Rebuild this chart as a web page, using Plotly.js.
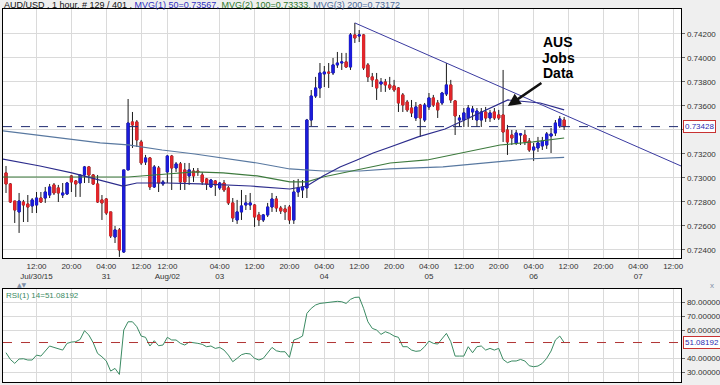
<!DOCTYPE html>
<html><head><meta charset="utf-8">
<script src="https://cdn.plot.ly/plotly-3.0.1.min.js"></script>
<style>html,body{margin:0;padding:0;background:#efefef;}#chart{width:720px;height:385px;}</style>
</head><body><div id="chart"></div>
<script>
// ---------- data ----------
const symbol = "AUD/USD";
const period = "1 hour";
const barInfo = "# 129 / 401";

const openP = [
0.73042,0.72950,0.72808,0.72717,0.72800,0.72783,0.72767,0.72775,0.72833,0.72833,
0.72858,0.72942,0.72917,0.72858,0.72867,0.73017,0.72975,0.72958,0.73025,0.73092,
0.73025,0.72950,0.72817,0.72825,0.72717,0.72508,0.72567,0.72383,0.73067,0.73467,
0.73467,0.73300,0.73133,0.73167,0.72925,0.73083,0.72950,0.73050,0.73183,0.73083,
0.73117,0.73067,0.73017,0.73058,0.73058,0.73025,0.72992,0.72925,0.72975,0.72917,
0.72958,0.72917,0.72792,0.72650,0.72717,0.72775,0.72775,0.72775,0.72692,0.72650,
0.72692,0.72758,0.72825,0.72750,0.72742,0.72758,0.72650,0.72883,0.72900,0.72917,
0.73483,0.73683,0.73750,0.73867,0.73883,0.73875,0.73942,0.73958,0.73967,0.73925,
0.74192,0.74183,0.74192,0.73942,0.73842,0.73817,0.73783,0.73800,0.73775,0.73767,
0.73750,0.73692,0.73633,0.73583,0.73500,0.73608,0.73483,0.73592,0.73667,0.73625,
0.73625,0.73700,0.73775,0.73642,0.73483,0.73483,0.73500,0.73550,0.73483,0.73483,
0.73550,0.73500,0.73550,0.73525,0.73525,0.73400,0.73358,0.73292,0.73358,0.73358,
0.73308,0.73233,0.73250,0.73267,0.73275,0.73350,0.73375,0.73433,0.73483];

const highP = [
0.73100,0.72958,0.72808,0.72875,0.72817,0.72858,0.72833,0.72883,0.72883,0.72925,
0.72950,0.72958,0.72942,0.72958,0.72967,0.73025,0.72983,0.73025,0.73100,0.73100,
0.73033,0.73025,0.72858,0.72833,0.72717,0.72600,0.72583,0.73067,0.73658,0.73550,
0.73483,0.73317,0.73192,0.73175,0.73108,0.73100,0.72983,0.73192,0.73192,0.73133,
0.73133,0.73125,0.73125,0.73083,0.73083,0.73050,0.73000,0.72992,0.72983,0.72967,
0.72983,0.72933,0.72833,0.72817,0.72900,0.72858,0.72875,0.72783,0.72717,0.72700,
0.72792,0.72875,0.72850,0.72767,0.72775,0.72775,0.72983,0.72992,0.72983,0.73492,
0.73733,0.73842,0.73958,0.73933,0.73958,0.74000,0.74050,0.74042,0.74042,0.74208,
0.74292,0.74233,0.74200,0.73958,0.73875,0.73875,0.73833,0.73825,0.73842,0.73817,
0.73758,0.73708,0.73650,0.73650,0.73633,0.73617,0.73625,0.73708,0.73692,0.73650,
0.73717,0.73958,0.73817,0.73650,0.73525,0.73583,0.73608,0.73600,0.73583,0.73583,
0.73592,0.73567,0.73583,0.73567,0.73900,0.73442,0.73400,0.73400,0.73375,0.73400,
0.73333,0.73292,0.73342,0.73342,0.73383,0.73417,0.73483,0.73517,0.73508];

const lowP = [
0.72875,0.72792,0.72625,0.72542,0.72633,0.72633,0.72708,0.72708,0.72792,0.72792,
0.72833,0.72858,0.72800,0.72833,0.72858,0.72883,0.72842,0.72842,0.72958,0.72958,
0.72942,0.72792,0.72650,0.72692,0.72500,0.72458,0.72342,0.72375,0.73067,0.73250,
0.73258,0.73108,0.73108,0.72900,0.72917,0.72883,0.72933,0.72958,0.72900,0.73050,
0.72900,0.72900,0.72942,0.72967,0.73017,0.72942,0.72900,0.72917,0.72850,0.72900,
0.72883,0.72775,0.72633,0.72617,0.72650,0.72733,0.72733,0.72592,0.72600,0.72633,
0.72675,0.72717,0.72717,0.72700,0.72650,0.72617,0.72617,0.72842,0.72833,0.72833,
0.73433,0.73667,0.73667,0.73758,0.73750,0.73858,0.73917,0.73900,0.73917,0.73900,
0.74125,0.74133,0.73900,0.73800,0.73758,0.73650,0.73717,0.73717,0.73733,0.73717,
0.73550,0.73550,0.73550,0.73508,0.73475,0.73342,0.73467,0.73567,0.73592,0.73500,
0.73608,0.73683,0.73625,0.73358,0.73425,0.73425,0.73425,0.73483,0.73425,0.73425,
0.73467,0.73467,0.73483,0.73483,0.73300,0.73192,0.73275,0.73275,0.73275,0.73275,
0.73217,0.73142,0.73217,0.73233,0.73242,0.73208,0.73350,0.73417,0.73400];

const closeP = [
0.72950,0.72800,0.72733,0.72808,0.72775,0.72758,0.72817,0.72833,0.72800,0.72883,
0.72925,0.72875,0.72875,0.72875,0.72958,0.72967,0.72950,0.73025,0.73092,0.73025,
0.72950,0.72800,0.72792,0.72708,0.72517,0.72567,0.72400,0.73067,0.73458,0.73442,
0.73317,0.73125,0.73167,0.72925,0.73092,0.72958,0.72967,0.73183,0.73083,0.73117,
0.72967,0.72967,0.73067,0.73017,0.73050,0.72967,0.72950,0.72983,0.72942,0.72958,
0.72900,0.72792,0.72667,0.72717,0.72767,0.72792,0.72792,0.72675,0.72650,0.72692,
0.72758,0.72825,0.72750,0.72725,0.72717,0.72650,0.72883,0.72917,0.72925,0.73483,
0.73683,0.73750,0.73875,0.73883,0.73875,0.73942,0.73958,0.73967,0.73925,0.74192,
0.74167,0.74192,0.73917,0.73842,0.73817,0.73750,0.73800,0.73775,0.73750,0.73733,
0.73625,0.73608,0.73567,0.73542,0.73592,0.73500,0.73608,0.73667,0.73608,0.73567,
0.73708,0.73775,0.73650,0.73517,0.73500,0.73542,0.73583,0.73575,0.73558,0.73550,
0.73500,0.73542,0.73500,0.73500,0.73383,0.73300,0.73333,0.73375,0.73367,0.73300,
0.73233,0.73258,0.73292,0.73308,0.73367,0.73367,0.73458,0.73492,0.73428];

const rsi = [
43.8,39.0,36.2,39.3,39.5,38.6,38.6,42.1,41.4,45.2,
48.6,47.6,46.4,45.7,50.5,51.4,51.7,53.3,59.5,56.4,
50.9,43.3,40.9,37.9,30.7,32.6,28.3,60.0,65.9,65.9,
62.4,55.7,54.8,48.6,52.4,48.8,49.3,54.8,52.9,52.9,
50.5,49.3,51.4,51.2,50.5,49.8,48.1,48.6,46.9,47.6,
45.7,42.1,37.4,39.8,42.4,43.3,42.9,39.8,38.6,39.8,
43.3,47.6,45.2,44.5,44.5,40.5,52.9,54.0,55.7,71.9,
75.5,77.9,79.0,79.5,80.0,80.2,80.5,80.2,79.0,81.9,
83.3,83.5,75.5,65.9,61.2,60.0,56.9,58.8,57.6,55.7,
54.8,48.1,48.1,45.7,44.8,45.2,48.1,52.1,50.5,50.0,
54.0,57.6,51.7,41.4,41.4,41.4,48.1,43.8,48.1,48.6,
45.7,46.9,45.7,46.9,39.0,36.7,37.9,37.9,39.0,37.9,
34.5,33.8,34.3,36.2,39.8,45.0,52.9,55.7,51.08192];

// moving averages (bar index, value)
const ma50X = [-0.7,7.8,15.1,21.6,26.8,30.0,36.9,44.5,56.0,65.1,69.0,72.7,76.6,80.5,84.2,88.1,94.5,100.7,107.6,115.1,122.5,128];
const ma50Y = [0.73158,0.73100,0.73042,0.72983,0.72933,0.72958,0.72958,0.72950,0.72933,0.72908,0.72933,0.73017,0.73092,0.73150,0.73208,0.73258,0.73342,0.73408,0.73525,0.73650,0.73625,0.73567];
const ma100X = [-0.7,21.6,28.0,36.9,43.3,49.8,57.6,65.1,69.0,72.7,80.5,88.1,96.6,104.1,113.3,120.9,128];
const ma100Y = [0.73008,0.73008,0.73008,0.73033,0.73050,0.73042,0.73017,0.72967,0.72967,0.73008,0.73067,0.73125,0.73150,0.73208,0.73275,0.73300,0.73333];
const ma200X = [-0.7,21.6,28.0,35.8,43.3,49.8,57.6,65.1,72.7,81.2,88.1,100.2,111.7,119.5,128];
const ma200Y = [0.73392,0.73292,0.73275,0.73233,0.73200,0.73167,0.73125,0.73075,0.73058,0.73058,0.73075,0.73092,0.73133,0.73158,0.73172];

// drawn trend line
const trendX = [80, 154.8];
const trendY = [0.74292, 0.73100];

// axis ticks
const tickIdx = [7,15,23,31,37,49,57,65,73,81,89,97,105,113,121,129,137,145,153];
const tickText = ["12:00<br>Jul/30/15","20:00","04:00<br>31","12:00","12:00<br>Aug/02","04:00<br>03","12:00","20:00","04:00<br>04","12:00","20:00","04:00<br>05","12:00","20:00","04:00<br>06","12:00","20:00","04:00<br>07","12:00"];
const priceTicks = [0.724,0.726,0.728,0.730,0.732,0.734,0.736,0.738,0.740,0.742];
const rsiTicks = [30,40,60,70,80];

const lastPrice = closeP[closeP.length-1];
const lastRsi = rsi[rsi.length-1];
const noteLines = ["AUS","Jobs","Data"];

// ---------- chart ----------
const bars = openP.map((_, i) => i);
const bodyHi = openP.map((o, i) => Math.max(o, closeP[i]));
const bodyLo = openP.map((o, i) => Math.min(o, closeP[i]));
const BLUE = '#1c1cdc', RED = '#e3262b';

const traces = [
  {type:'candlestick', x:bars, open:openP, high:highP, low:lowP, close:closeP,
   increasing:{line:{color:'#1a1a1a',width:1},fillcolor:'#1a1a1a'},
   decreasing:{line:{color:'#1a1a1a',width:1},fillcolor:'#1a1a1a'},
   whiskerwidth:0, hoverinfo:'skip', xaxis:'x', yaxis:'y'},
  {type:'candlestick', x:bars, open:openP, high:bodyHi, low:bodyLo, close:closeP,
   increasing:{line:{color:BLUE,width:1},fillcolor:BLUE},
   decreasing:{line:{color:RED,width:1},fillcolor:RED},
   whiskerwidth:0, hoverinfo:'skip', xaxis:'x', yaxis:'y'},
  {type:'scatter', mode:'lines', x:ma200X, y:ma200Y, line:{color:'#5878a0',width:1.2}, xaxis:'x', yaxis:'y', hoverinfo:'skip'},
  {type:'scatter', mode:'lines', x:ma100X, y:ma100Y, line:{color:'#3d7a3d',width:1.2}, xaxis:'x', yaxis:'y', hoverinfo:'skip'},
  {type:'scatter', mode:'lines', x:ma50X, y:ma50Y, line:{color:'#2c2c8c',width:1.2}, xaxis:'x', yaxis:'y', hoverinfo:'skip'},
  {type:'scatter', mode:'lines', x:trendX, y:trendY, line:{color:'#3a3aa0',width:1}, xaxis:'x', yaxis:'y', hoverinfo:'skip'},
  {type:'scatter', mode:'lines', x:bars, y:rsi, line:{color:'#3a8a62',width:1}, xaxis:'x2', yaxis:'y2', hoverinfo:'skip'}
];

const F = 'Liberation Sans, Arial, sans-serif';
const gridC = '#dadada';
const fmt5 = v => v.toFixed(5);
// the current-price box covers the nearby tick label
const priceTickText = priceTicks.map(v => Math.abs(v - lastPrice) < 0.0005 ? '' : fmt5(v));

const titleText = symbol + ' , ' + period + ', ' + barInfo + ' , ' +
  '<span style="color:#3030c0">MVG(1) 50=' + fmt5(ma50Y[ma50Y.length-1]) + ',</span> ' +
  '<span style="color:#2e7a2e">MVG(2) 100=' + fmt5(ma100Y[ma100Y.length-1]) + ',</span> ' +
  '<span style="color:#4a6a9a">MVG(3) 200=' + fmt5(ma200Y[ma200Y.length-1]) + '</span>';

const annotations = [
  {xref:'paper', yref:'paper', x:-0.0015, y:1.0107, xanchor:'left', yanchor:'middle', text:titleText, showarrow:false, font:{family:F,size:9,color:'#111'}},
  {xref:'paper', yref:'paper', x:0.0015, y:0.2332, xanchor:'left', yanchor:'middle', text:'RSI(1) 14=' + lastRsi.toFixed(5), showarrow:false, font:{family:F,size:8,color:'#3a8a62'}},
  {xref:'paper', yref:'paper', x:0.028, y:0.2627, xanchor:'center', yanchor:'middle', text:'▲▼', showarrow:false, font:{family:'DejaVu Sans',size:6,color:'#8090a8'}},
  {xref:'paper', yref:'paper', x:1.0457, y:0.2600, xanchor:'center', yanchor:'middle', text:'x', showarrow:false, font:{family:F,size:8,color:'#8090a8'}},
  {xref:'paper', yref:'y', x:1, xshift:2, y:lastPrice, xanchor:'left', yanchor:'middle', text:fmt5(lastPrice), showarrow:false,
   font:{family:F,size:8,color:'#2a2ab0'}, bgcolor:'#ffffff', bordercolor:'#c83232', borderwidth:1, borderpad:1},
  {xref:'paper', yref:'y2', x:1, xshift:2, y:lastRsi, xanchor:'left', yanchor:'middle', text:fmt5(lastRsi), showarrow:false,
   font:{family:F,size:8,color:'#2a2ab0'}, bgcolor:'#ffffff', bordercolor:'#c83232', borderwidth:1, borderpad:1},
  {xref:'x', yref:'y', x:115.1, y:0.73600, ax:35, ay:-24, text:'', showarrow:true, arrowhead:2, arrowsize:1, arrowwidth:2.5, arrowcolor:'#111', standoff:0}
];
const noteY = [0.74133, 0.74000, 0.73875];
noteLines.forEach((t, k) => {
  annotations.push({xref:'x', yref:'y', x:126.6, y:noteY[k], text:'<b>'+t+'</b>', showarrow:false, font:{family:F,size:14,color:'#000'}});
});

const layout = {
  width:720, height:385,
  margin:{l:3, r:39, t:9, b:3},
  paper_bgcolor:'#efefef', plot_bgcolor:'#ffffff',
  showlegend:false,
  font:{family:F, size:8, color:'#333'},
  xaxis:{domain:[0,1], anchor:'y', range:[-0.69,154.8], tickvals:tickIdx, ticktext:tickText,
    showgrid:true, gridcolor:gridC, zeroline:false, showline:true, mirror:true, linecolor:'#000', linewidth:1.3,
    ticks:'', rangeslider:{visible:false}, tickfont:{family:F,size:8,color:'#333'}, fixedrange:true},
  yaxis:{domain:[0.3324,1], anchor:'x', range:[0.72333,0.74408], side:'right', tickvals:priceTicks, ticktext:priceTickText,
    showgrid:true, gridcolor:gridC, zeroline:false, showline:true, mirror:true, linecolor:'#000', linewidth:1.3,
    ticks:'outside', ticklen:3, tickcolor:'#666', tickfont:{family:F,size:8,color:'#333'}, fixedrange:true},
  xaxis2:{domain:[0,1], anchor:'y2', matches:'x', range:[-0.69,154.8], tickvals:tickIdx, showticklabels:false,
    showgrid:true, gridcolor:gridC, zeroline:false, showline:true, mirror:true, linecolor:'#000', linewidth:1.3, ticks:'',
    rangeslider:{visible:false}, fixedrange:true},
  yaxis2:{domain:[0,0.2493], anchor:'x2', range:[22.9,89.3], side:'right', tickvals:rsiTicks, ticktext:rsiTicks.map(fmt5),
    showgrid:true, gridcolor:gridC, zeroline:false, showline:true, mirror:true, linecolor:'#000', linewidth:1.3,
    ticks:'outside', ticklen:3, tickcolor:'#666', tickfont:{family:F,size:8,color:'#333'}, fixedrange:true},
  shapes:[
    {type:'line', xref:'x domain', yref:'y', x0:0, x1:1, y0:lastPrice, y1:lastPrice, line:{color:'#1f2a70',width:1,dash:'dash'}},
    {type:'line', xref:'x2 domain', yref:'y2', x0:0, x1:1, y0:lastRsi, y1:lastRsi, line:{color:'#b03434',width:1,dash:'dash'}}
  ],
  annotations:annotations
};

Plotly.newPlot('chart', traces, layout, {displayModeBar:false, staticPlot:true});
</script>
</body></html>
